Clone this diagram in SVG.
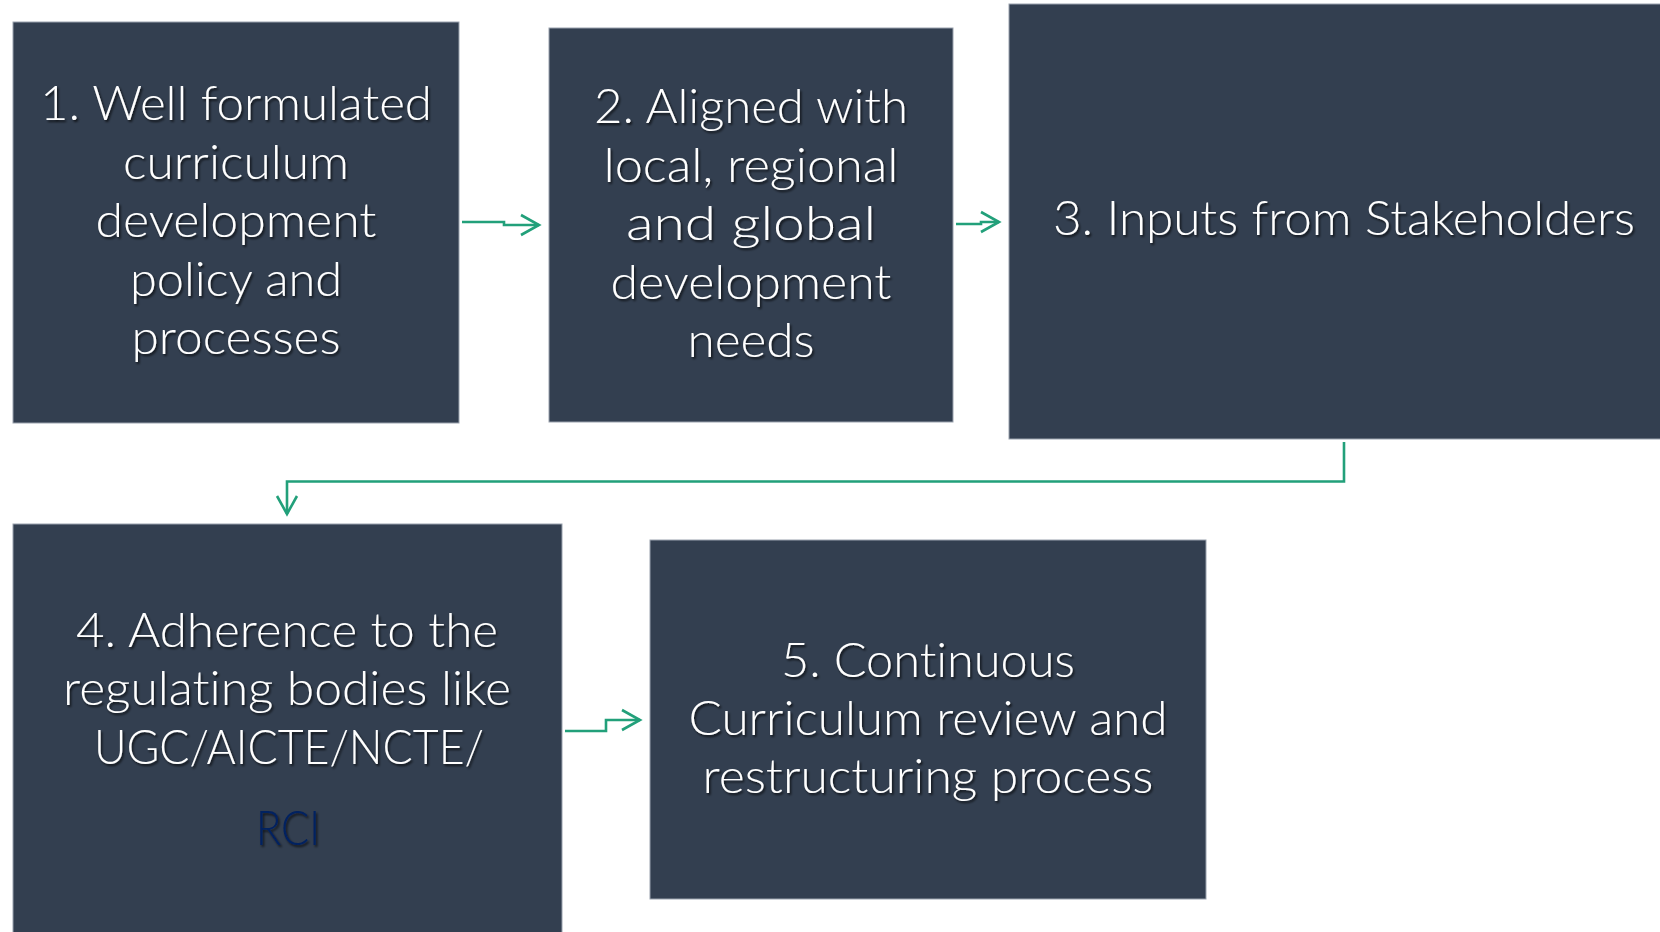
<svg xmlns="http://www.w3.org/2000/svg" width="1660" height="932" viewBox="0 0 1660 932">
<defs>
<style>
.box{fill:#333F50;stroke:#9aa2ad;stroke-width:1}
.t{font-family:Lato,"Open Sans","Liberation Sans",sans-serif;font-weight:300;font-size:48px;fill:#ffffff;text-anchor:middle;filter:url(#sh);font-variant-ligatures:none}
.rci{fill:#002060}
.conn{fill:none;stroke:#22A07A;stroke-width:2.6;stroke-linejoin:miter}
</style>
<filter id="sh" x="-10%" y="-30%" width="120%" height="160%">
<feDropShadow dx="1.5" dy="2" stdDeviation="1.2" flood-color="#000" flood-opacity="0.7"/>
</filter>
<marker id="ah" viewBox="0 0 24 24" refX="21" refY="12" markerWidth="24" markerHeight="24" markerUnits="userSpaceOnUse" orient="auto">
<path d="M3,2 L21,12 L3,22" fill="none" stroke="#22A07A" stroke-width="2.6"/>
</marker>
</defs>
<rect width="1660" height="932" fill="#ffffff"/>
<g id="connectors">
<path class="conn" d="M462,222 H504 V225 H539" marker-end="url(#ah)"/>
<path class="conn" d="M956,224 H981 V222 H999" marker-end="url(#ah)"/>
<path class="conn" d="M1344,442 V481.5 H287 V514" marker-end="url(#ah)"/>
<path class="conn" d="M565,731 H606 V720 H640" marker-end="url(#ah)"/>
</g>
<g id="node1">
<rect class="box" x="13" y="22" width="446" height="401"/>
<text class="t"><tspan x="236" y="120" textLength="392" lengthAdjust="spacingAndGlyphs">1. Well formulated</tspan><tspan x="236" y="179" textLength="226" lengthAdjust="spacingAndGlyphs">curriculum</tspan><tspan x="236" y="237" textLength="281" lengthAdjust="spacingAndGlyphs">development</tspan><tspan x="236" y="296" textLength="212" lengthAdjust="spacingAndGlyphs">policy and</tspan><tspan x="236" y="354" textLength="209" lengthAdjust="spacingAndGlyphs">processes</tspan></text>
</g>
<g id="node2">
<rect class="box" x="549" y="28" width="404" height="394"/>
<text class="t"><tspan x="751" y="123" textLength="314" lengthAdjust="spacingAndGlyphs">2. Aligned with</tspan><tspan x="751" y="181.5" textLength="295" lengthAdjust="spacingAndGlyphs">local, regional</tspan><tspan x="751" y="240" textLength="250" lengthAdjust="spacingAndGlyphs">and global</tspan><tspan x="751" y="298.5" textLength="281" lengthAdjust="spacingAndGlyphs">development</tspan><tspan x="751" y="357" textLength="127" lengthAdjust="spacingAndGlyphs">needs</tspan></text>
</g>
<g id="node3">
<rect class="box" x="1009" y="4" width="680" height="435"/>
<text class="t"><tspan x="1344" y="235" textLength="582" lengthAdjust="spacingAndGlyphs">3. Inputs from Stakeholders</tspan></text>
</g>
<g id="node4">
<rect class="box" x="13" y="524" width="549" height="420"/>
<text class="t"><tspan x="287" y="647" textLength="422" lengthAdjust="spacingAndGlyphs">4. Adherence to the</tspan><tspan x="287" y="705" textLength="448" lengthAdjust="spacingAndGlyphs">regulating bodies like</tspan><tspan x="289" y="764" textLength="390" lengthAdjust="spacingAndGlyphs">UGC/AICTE/NCTE/</tspan></text>
<text class="t rci"><tspan x="288" y="845" textLength="64" lengthAdjust="spacingAndGlyphs">RCI</tspan></text>
</g>
<g id="node5">
<rect class="box" x="650" y="540" width="556" height="359"/>
<text class="t"><tspan x="928" y="677" textLength="294" lengthAdjust="spacingAndGlyphs">5. Continuous</tspan><tspan x="928" y="735" textLength="479" lengthAdjust="spacingAndGlyphs">Curriculum review and</tspan><tspan x="928" y="793" textLength="451" lengthAdjust="spacingAndGlyphs">restructuring process</tspan></text>
</g>
</svg>
